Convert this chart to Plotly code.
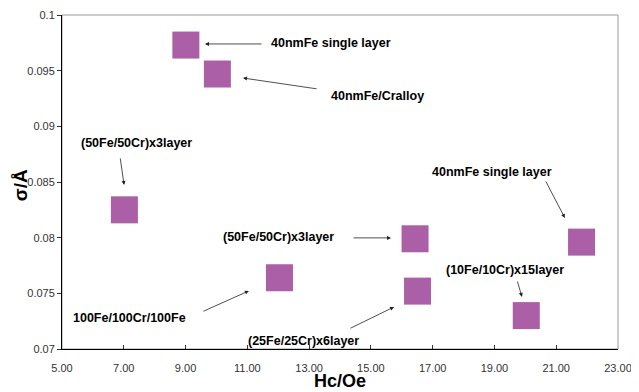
import plotly.graph_objects as go

# Data
hc = [9.01, 10.03, 7.02, 12.04, 16.43, 16.51, 20.03, 21.82]
sigma = [0.0973, 0.0947, 0.0825, 0.0764, 0.0799, 0.0752, 0.0730, 0.0796]

x_ticks = [5, 7, 9, 11, 13, 15, 17, 19, 21, 23]
x_ticktext = ["5.00", "7.00", "9.00", "11.00", "13.00", "15.00", "17.00", "19.00", "21.00", "23.00"]
y_ticks = [0.07, 0.075, 0.08, 0.085, 0.09, 0.095, 0.1]
y_ticktext = ["0.07", "0.075", "0.08", "0.085", "0.09", "0.095", "0.1"]

labels = ["40nmFe single layer", "40nmFe/Cralloy", "(50Fe/50Cr)x3layer", "40nmFe single layer",
          "(50Fe/50Cr)x3layer", "100Fe/100Cr/100Fe", "(25Fe/25Cr)x6layer", "(10Fe/10Cr)x15layer"]
label_x = [13.71, 15.23, 7.41, 18.92, 12.01, 7.19, 12.83, 19.33]
label_y = [0.09749, 0.09273, 0.08851, 0.08590, 0.08006, 0.07279, 0.07073, 0.07710]

arrow_tail_x = [11.51, 13.29, 6.88, 20.64, 14.39, 9.53, 14.29, 19.73]
arrow_tail_y = [0.09740, 0.09335, 0.08725, 0.08518, 0.07998, 0.07333, 0.07180, 0.07620]
arrow_head_x = [9.63, 10.86, 7.01, 21.28, 15.65, 11.05, 15.75, 19.89]
arrow_head_y = [0.09740, 0.09434, 0.08473, 0.08177, 0.07998, 0.07522, 0.07378, 0.07468]

FONT = "Liberation Sans, Arial, sans-serif"

fig = go.Figure()
fig.add_trace(go.Scatter(
    x=hc, y=sigma, mode="markers",
    marker=dict(symbol="square", size=27, color="#AA5FA6", line=dict(width=0)),
    showlegend=False,
))

font_lbl = dict(family=FONT, size=12.5, color="black")
annotations = []
for t, lx, ly in zip(labels, label_x, label_y):
    annotations.append(dict(x=lx, y=ly, xref="x", yref="y", text="<b>" + t + "</b>",
                            showarrow=False, font=font_lbl))
for tx, ty, hx, hy in zip(arrow_tail_x, arrow_tail_y, arrow_head_x, arrow_head_y):
    annotations.append(dict(x=hx, y=hy, ax=tx, ay=ty, xref="x", yref="y", axref="x", ayref="y",
                            text="", showarrow=True, arrowhead=2, arrowsize=1.0, arrowwidth=0.8,
                            arrowcolor="#222222"))
# axis titles
annotations.append(dict(x=0.5, y=-0.096, xref="paper", yref="paper", text="<b>Hc/Oe</b>",
                        showarrow=False, font=dict(family=FONT, size=18, color="black"),
                        xanchor="center", yanchor="middle"))
annotations.append(dict(x=-0.0755, y=0.49, xref="paper", yref="paper", text="<b>σ/Å</b>",
                        showarrow=False, textangle=-90, font=dict(family=FONT, size=19, color="black"),
                        xanchor="center", yanchor="middle"))

# page body has an 8px margin, so the figure is sized to fit the window
fig.update_layout(
    width=631, height=384,
    margin=dict(l=54, r=21, t=7, b=43, autoexpand=False),
    paper_bgcolor="white", plot_bgcolor="white",
    annotations=annotations,
    shapes=[dict(type="rect", xref="paper", yref="paper", x0=0, y0=0, x1=1, y1=1,
                 line=dict(color="#999999", width=1), layer="below")],
    xaxis=dict(
        range=[5, 23], tickvals=x_ticks, ticktext=x_ticktext, automargin=False,
        showgrid=False, zeroline=False, showline=True, linecolor="black", linewidth=1,
        ticks="inside", ticklen=4, tickcolor="#333333", ticklabelstandoff=9,
        tickfont=dict(family=FONT, size=11, color="#333333"),
    ),
    yaxis=dict(
        range=[0.07, 0.1], tickvals=y_ticks, ticktext=y_ticktext, automargin=False,
        showgrid=False, zeroline=False, showline=True, linecolor="black", linewidth=1,
        ticks="outside", ticklen=4, tickcolor="#333333",
        tickfont=dict(family=FONT, size=11, color="#333333"),
    ),
)

fig.write_html("out.html")
